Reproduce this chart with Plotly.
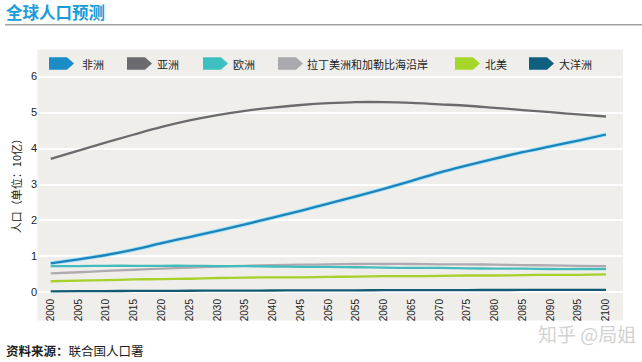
import plotly.graph_objects as go

years = list(range(2000, 2101, 5))
tick_labels = [str(y) for y in years]

africa = [0.81, 0.92, 1.04, 1.19, 1.37, 1.54, 1.71, 1.89, 2.08, 2.27, 2.47, 2.67,
          2.88, 3.10, 3.33, 3.53, 3.72, 3.90, 4.06, 4.22, 4.39]
asia = [3.71, 3.94, 4.17, 4.39, 4.60, 4.78, 4.93, 5.05, 5.14, 5.21, 5.26, 5.29,
        5.29, 5.27, 5.23, 5.19, 5.13, 5.07, 5.01, 4.95, 4.89]
europe = [0.73, 0.73, 0.74, 0.74, 0.74, 0.74, 0.73, 0.73, 0.72, 0.71, 0.71, 0.70,
          0.69, 0.68, 0.68, 0.67, 0.66, 0.66, 0.65, 0.65, 0.65]
latam = [0.53, 0.56, 0.60, 0.63, 0.66, 0.69, 0.72, 0.74, 0.76, 0.77, 0.78, 0.79,
         0.79, 0.79, 0.78, 0.78, 0.77, 0.76, 0.75, 0.74, 0.73]
namerica = [0.31, 0.33, 0.34, 0.36, 0.37, 0.38, 0.40, 0.41, 0.42, 0.42, 0.43, 0.44,
            0.45, 0.45, 0.46, 0.47, 0.47, 0.48, 0.49, 0.49, 0.50]
oceania = [0.031, 0.033, 0.037, 0.040, 0.043, 0.046, 0.048, 0.051, 0.053, 0.055, 0.057,
           0.059, 0.061, 0.063, 0.064, 0.066, 0.067, 0.068, 0.069, 0.070, 0.071]

series_names = ["非洲", "亚洲", "欧洲", "拉丁美洲和加勒比海沿岸", "北美", "大洋洲"]
line_colors = ["#1d84bb", "#6b6b6e", "#45bcbc", "#aeaab0", "#a8cf2a", "#125b73"]
legend_colors = ["#1a8cc8", "#6a6a6f", "#3fc0c0", "#a9a9ae", "#a5d62a", "#0f5f7f"]

FONT = "Noto Sans CJK SC, Liberation Sans, sans-serif"
W, H = 642, 362
L, R = 38, 623          # plot area left/right in px
T, B = 72.7, 295.9      # plot area top/bottom in px


def px(x):
    return (x - L) / (R - L)


def py(y):
    return (B - y) / (B - T)


fig = go.Figure()

data = [oceania, namerica, latam, europe, africa, asia]
idx = [5, 4, 3, 2, 0, 1]
for d, i in zip(data, idx):
    if i == 0:
        fig.add_trace(go.Scatter(x=years, y=d, mode="lines", line=dict(color="#aee4f6", width=4.2, shape="spline"),
                                 hoverinfo="skip", showlegend=False))
    fig.add_trace(go.Scatter(x=years, y=d, mode="lines", name=series_names[i],
                             line=dict(color=line_colors[i], width=2.3, shape="spline"),
                             showlegend=False))

shapes = []
# gray panel
shapes.append(dict(type="rect", xref="paper", yref="paper", x0=px(37.5), x1=px(623), y0=py(320.5), y1=py(49.3),
                   fillcolor="#efeeeb", line=dict(width=0), layer="below"))
# title underline
shapes.append(dict(type="line", xref="paper", yref="paper", x0=px(5), x1=px(642), y0=py(24.5), y1=py(24.5),
                   line=dict(color="#a3a3a3", width=1.5)))

annotations = []
# legend (manual tag-shaped markers)
legend_x = [49, 127, 203, 278, 455, 529]
text_x = [80, 155, 231, 305, 483, 557]
ytop, ybot = 57, 69.5
for i in range(6):
    x0 = legend_x[i]
    xa, xb = x0 + 18, x0 + 25
    path = "M {a},{b} L {c},{b} L {d},{e} L {c},{f} L {a},{f} Z".format(
        a=px(x0), b=py(ytop), c=px(xa), d=px(xb), e=py((ytop + ybot) / 2), f=py(ybot))
    shapes.append(dict(type="path", xref="paper", yref="paper", path=path,
                       fillcolor=legend_colors[i], line=dict(width=0)))
    annotations.append(dict(xref="paper", yref="paper", x=px(text_x[i]), y=py(63.2), xanchor="left", yanchor="middle",
                            text=series_names[i], showarrow=False, font=dict(family=FONT, size=11, color="#222")))

# title
annotations.append(dict(xref="paper", yref="paper", x=px(4), y=py(12), xanchor="left", yanchor="middle",
                        text="<b>全球人口预测</b>", showarrow=False,
                        font=dict(family=FONT, size=16.5, color="#1b9cd8")))
# y-axis title
annotations.append(dict(xref="paper", yref="paper", x=px(16), y=py(183), xanchor="center", yanchor="middle",
                        text="人口（单位：10亿）", showarrow=False, textangle=-90,
                        font=dict(family=FONT, size=11, color="#222")))
# source
annotations.append(dict(xref="paper", yref="paper", x=px(4), y=py(350), xanchor="left", yanchor="middle",
                        text="<b>资料来源：</b>联合国人口署", showarrow=False,
                        font=dict(family=FONT, size=12.5, color="#222")))
# watermark
annotations.append(dict(xref="paper", yref="paper", x=px(638), y=py(333), xanchor="right", yanchor="middle",
                        text="知乎 @局姐", showarrow=False,
                        font=dict(family=FONT, size=19, color="#d2d2d2")))

fig.update_layout(
    width=W, height=H,
    margin=dict(l=L, r=W - R, t=T, b=H - B, pad=0),
    paper_bgcolor="white",
    plot_bgcolor="rgba(0,0,0,0)",
    showlegend=False,
    shapes=shapes,
    annotations=annotations,
    font=dict(family=FONT, color="#222"),
    xaxis=dict(range=[2000 - 12.7 / 5.553, 2100 + 17 / 5.553], tickmode="array", tickvals=years,
               ticktext=tick_labels, tickangle=-90, showgrid=False, zeroline=False, showline=False,
               ticks="", tickfont=dict(family="Liberation Sans, sans-serif", size=10, color="#222")),
    yaxis=dict(range=[-0.1, 6.1], tickmode="array", tickvals=[0, 1, 2, 3, 4, 5, 6],
               ticktext=["0", "1", "2", "3", "4", "5", "6"], showgrid=True, gridcolor="white", gridwidth=1.5,
               zeroline=False, showline=False, ticks="",
               tickfont=dict(family="Liberation Sans, sans-serif", size=11, color="#222")),
)

fig.write_html("out.html", config={"displayModeBar": False},
               post_script="document.body.style.margin='0px';document.body.style.overflow='hidden';")
